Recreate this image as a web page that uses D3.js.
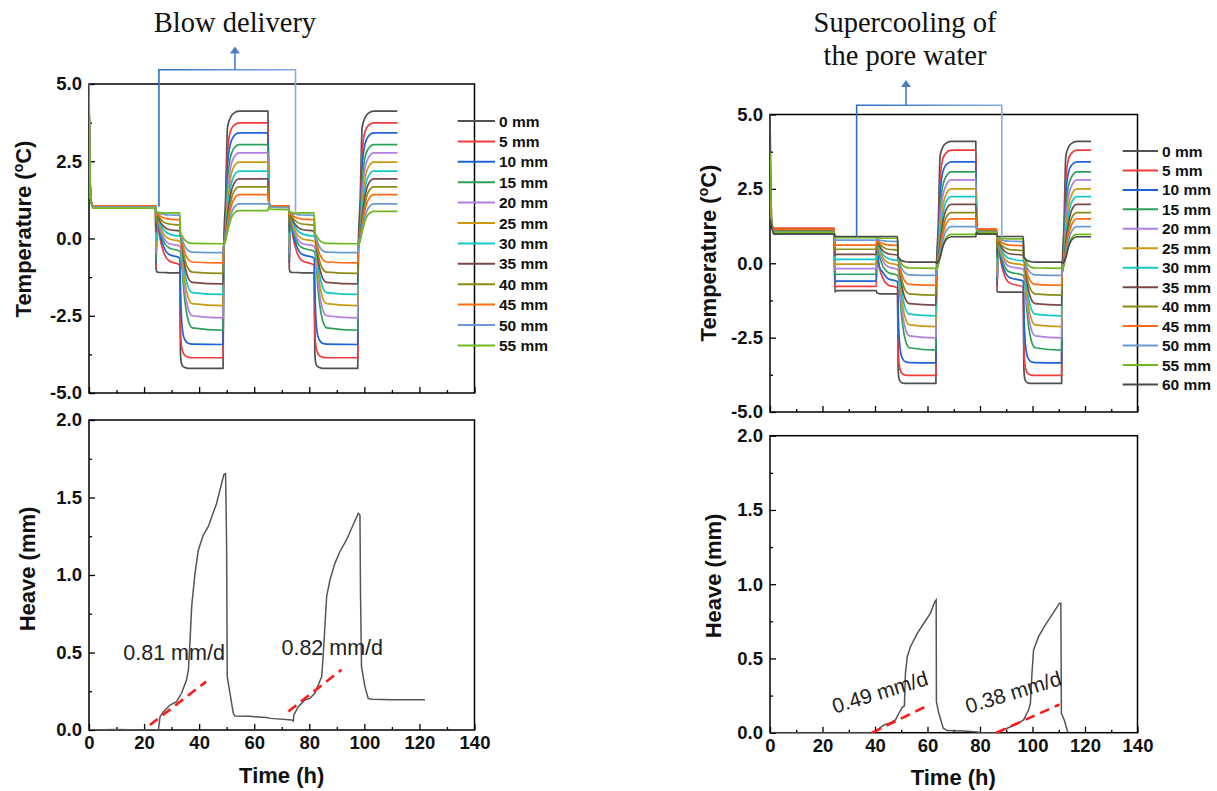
<!DOCTYPE html>
<html><head><meta charset="utf-8">
<script src="https://cdn.jsdelivr.net/npm/d3@7"></script>
<style>body{margin:0;background:#fff}</style>
</head><body>
<svg id="c" width="1217" height="791"></svg>
<script>
// ---------------- DATA ----------------
const depthLabelsL = ["0 mm","5 mm","10 mm","15 mm","20 mm","25 mm","30 mm","35 mm","40 mm","45 mm","50 mm","55 mm"];
const depthLabelsR = ["0 mm","5 mm","10 mm","15 mm","20 mm","25 mm","30 mm","35 mm","40 mm","45 mm","50 mm","55 mm","60 mm"];
const seriesColors = ["#505050","#f03c3c","#1f63d6","#2ea05a","#b07fe0","#c89b12","#14c8c8","#7a4848","#8c8c14","#ff6a12","#6a9ad2","#70b820","#4a4a4a"];
const timeTicks = [0,20,40,60,80,100,120,140];
const tempTicks = [-5,-2.5,0,2.5,5];
const heaveTicks = [0,0.5,1,1.5,2];

// Left (Blow delivery) temperature: shared time knots (h) and one value array per depth (°C)
const tempTimeL = [0,0.6,1.5,24.2, 24.35,24.7,25.6,27,29,33, 33.2,33.6,34.3,35,36,37.5,48.7, 48.9,49.6,50.3,51.3,52.5,54.5,65, 65.3,65.9,72.6, 72.75,73.1,74,75.4,77.4,81.8, 82,82.4,83.1,83.8,84.8,86.3,97.6, 97.8,98.5,99.2,100.2,101.4,103.4,112];
const tL0mm  = [4.3,1.3,1.05,1.05, -1.0,-1.08,-1.1,-1.1,-1.11,-1.11, -3.7,-4.05,-4.15,-4.18,-4.2,-4.2,-4.2, -0.3,1.3,3.6,3.9,4.05,4.12,4.12, 1.2,1.06,1.05, -1.0,-1.08,-1.1,-1.1,-1.11,-1.11, -3.7,-4.05,-4.15,-4.18,-4.2,-4.2,-4.2, -0.3,1.3,3.6,3.9,4.05,4.12,4.12];
const tL5mm  = [4.2,1.3,1.05,1.05, -0.95,0.7,0.09,-0.42,-0.72,-0.86, -2.9,-3.5,-3.72,-3.8,-3.84,-3.86,-3.86, -0.3,0.5,2.8,3.45,3.65,3.74,3.74, 1.2,1.06,1.05, -0.95,0.7,0.09,-0.42,-0.72,-0.86, -2.9,-3.5,-3.72,-3.8,-3.84,-3.86,-3.86, -0.3,0.5,2.8,3.45,3.65,3.74,3.74];
const tL10mm = [4.6,1.3,1.05,1.05, -0.8,0.75,0.21,-0.24,-0.51,-0.63, -1.5,-2.6,-3.15,-3.3,-3.39,-3.42,-3.43, -0.3,0.3,2.3,3.05,3.3,3.42,3.42, 1.2,1.06,1.05, -0.8,0.75,0.21,-0.24,-0.51,-0.63, -1.5,-2.6,-3.15,-3.3,-3.39,-3.42,-3.43, -0.3,0.3,2.3,3.05,3.3,3.42,3.42];
const tL15mm = [4.6,1.3,1.05,1.05, -0.7,0.78,0.32,-0.08,-0.3,-0.41, -0.45,-0.67,-1.56,-2.15,-2.64,-2.89,-2.97, -0.3,0.2,1.8,2.6,2.9,3.04,3.04, 1.2,1.06,1.05, -0.7,0.78,0.32,-0.08,-0.3,-0.41, -0.45,-0.67,-1.56,-2.15,-2.64,-2.89,-2.97, -0.3,0.2,1.8,2.6,2.9,3.04,3.04];
const tL20mm = [4.6,1.3,1.05,1.05, -0.5,0.8,0.39,0.04,-0.16,-0.25, -0.28,-0.48,-1.29,-1.83,-2.27,-2.5,-2.57, -0.3,0.15,1.4,2.25,2.6,2.77,2.77, 1.2,1.06,1.05, -0.5,0.8,0.39,0.04,-0.16,-0.25, -0.28,-0.48,-1.29,-1.83,-2.27,-2.5,-2.57, -0.3,0.15,1.4,2.25,2.6,2.77,2.77];
const tL25mm = [4.6,1.3,1.05,1.05, -0.3,0.81,0.46,0.16,-0.01,-0.09, -0.1,-0.3,-1.03,-1.5,-1.9,-2.11,-2.17, -0.3,0.1,1.1,1.9,2.3,2.47,2.47, 1.2,1.06,1.05, -0.3,0.81,0.46,0.16,-0.01,-0.09, -0.1,-0.3,-1.03,-1.5,-1.9,-2.11,-2.17, -0.3,0.1,1.1,1.9,2.3,2.47,2.47];
const tL30mm = [4.6,1.3,1.05,1.05, -0.1,0.82,0.53,0.29,0.15,0.08, 0.08,-0.11,-0.77,-1.21,-1.56,-1.75,-1.81, -0.3,0.05,0.9,1.6,2.0,2.18,2.18, 1.2,1.06,1.05, -0.1,0.82,0.53,0.29,0.15,0.08, 0.08,-0.11,-0.77,-1.21,-1.56,-1.75,-1.81, -0.3,0.05,0.9,1.6,2.0,2.18,2.18];
const tL35mm = [4.6,1.3,1.05,1.05, 0.2,0.82,0.59,0.4,0.29,0.24, 0.1,-0.06,-0.61,-0.97,-1.27,-1.42,-1.47, -0.3,0.02,0.7,1.35,1.75,1.93,1.93, 1.2,1.06,1.05, 0.2,0.82,0.59,0.4,0.29,0.24, 0.1,-0.06,-0.61,-0.97,-1.27,-1.42,-1.47, -0.3,0.02,0.7,1.35,1.75,1.93,1.93];
const tL40mm = [4.6,1.3,1.05,1.05, 0.5,0.83,0.67,0.54,0.47,0.43, 0.1,-0.02,-0.45,-0.74,-0.97,-1.09,-1.13, -0.3,0.0,0.5,1.1,1.5,1.67,1.67, 1.2,1.06,1.05, 0.5,0.83,0.67,0.54,0.47,0.43, 0.1,-0.02,-0.45,-0.74,-0.97,-1.09,-1.13, -0.3,0.0,0.5,1.1,1.5,1.67,1.67];
const tL45mm = [4.2,1.3,1.05,1.05, 0.75,0.84,0.75,0.67,0.63,0.61, 0.1,0.01,-0.3,-0.51,-0.67,-0.76,-0.79, -0.3,-0.02,0.4,0.9,1.25,1.42,1.42, 1.2,1.06,1.05, 0.75,0.84,0.75,0.67,0.63,0.61, 0.1,0.01,-0.3,-0.51,-0.67,-0.76,-0.79, -0.3,-0.02,0.4,0.9,1.25,1.42,1.42];
const tL50mm = [4.6,1.3,1.02,1.02, 0.85,0.85,0.81,0.78,0.76,0.75, 0.1,0.04,-0.15,-0.28,-0.39,-0.44,-0.46, -0.3,-0.05,0.3,0.7,0.98,1.12,1.12, 1.15,1.02,1.0, 0.85,0.85,0.81,0.78,0.76,0.75, 0.1,0.04,-0.15,-0.28,-0.39,-0.44,-0.46, -0.3,-0.05,0.3,0.7,0.98,1.12,1.12];
const tL55mm = [5.0,1.2,0.98,0.98, 0.85,0.85,0.84,0.83,0.83,0.83, 0.15,0.12,0.01,-0.07,-0.13,-0.16,-0.17, -0.2,-0.05,0.2,0.55,0.8,0.9,0.9, 1.05,0.95,0.93, 0.85,0.85,0.84,0.83,0.83,0.83, 0.15,0.12,0.01,-0.07,-0.13,-0.16,-0.17, -0.2,-0.05,0.2,0.55,0.78,0.88,0.88];

// Right (Supercooling) temperature
const tempTimeR = [0,0.7,1.5,24.5, 24.7,25.3,40.5, 40.7,41.6,43,45,48.6, 48.8,49.2,49.9,50.6,51.6,53.1,63.2, 63.4,64.1,64.8,65.8,67,69,78.4, 78.7,79.3,86.4, 86.55,86.9,87.8,89.2,91.2,96.5, 96.7,97.1,97.8,98.5,99.5,101,111.1, 111.3,112,112.7,113.7,114.9,116.9,122.3];
const tR0mm  = [5.0,1.3,1.0,1.0, -0.97,-0.92,-0.92, -1.0,-1.02,-1.03,-1.03,-1.03, -3.5,-3.9,-4.0,-4.03,-4.04,-4.04,-4.04, -0.3,1.3,3.6,3.9,4.03,4.1,4.1, 1.15,1.0,1.0, -0.95,-0.97,-0.97,-0.97,-0.97,-0.97, -3.5,-3.9,-4.0,-4.03,-4.04,-4.04,-4.04, -0.3,1.3,3.6,3.9,4.03,4.1,4.1];
const tR5mm  = [2.5,1.3,1.18,1.18, -0.83,-0.78,-0.78, 0.3,-0.14,-0.51,-0.73,-0.83, -2.7,-3.4,-3.65,-3.72,-3.76,-3.77,-3.77, -0.3,0.5,2.8,3.5,3.7,3.8,3.8, 1.25,1.15,1.15, -0.9,0.7,0.12,-0.38,-0.66,-0.8, -2.7,-3.4,-3.65,-3.72,-3.76,-3.77,-3.77, -0.3,0.5,2.8,3.5,3.7,3.8,3.8];
const tR10mm = [2.0,1.3,1.15,1.15, -0.65,-0.6,-0.6, 0.5,-0.1,-0.31,-0.52,-0.62, -1.5,-2.5,-3.05,-3.22,-3.31,-3.34,-3.35, -0.3,0.3,2.3,3.05,3.3,3.41,3.41, 1.25,1.12,1.12, -0.75,0.75,0.22,-0.22,-0.48,-0.6, -1.5,-2.5,-3.05,-3.22,-3.31,-3.34,-3.35, -0.3,0.3,2.3,3.05,3.3,3.41,3.41];
const tR15mm = [1.5,1.3,1.13,1.13, -0.42,-0.37,-0.37, 0.7,0.27,-0.1,-0.31,-0.41, -0.45,-0.66,-1.54,-2.12,-2.59,-2.84,-2.92, -0.3,0.2,1.8,2.6,2.9,3.07,3.07, 1.22,1.1,1.1, -0.6,0.78,0.32,-0.07,-0.29,-0.4, -0.44,-0.65,-1.53,-2.11,-2.59,-2.84,-2.92, -0.3,0.2,1.8,2.6,2.9,3.07,3.07];
const tR20mm = [1.5,1.3,1.12,1.12, -0.23,-0.18,-0.18, 0.82,0.42,0.08,-0.12,-0.21, -0.24,-0.44,-1.25,-1.77,-2.21,-2.44,-2.51, -0.3,0.15,1.4,2.25,2.6,2.8,2.8, 1.22,1.1,1.1, -0.45,0.8,0.41,0.08,-0.11,-0.2, -0.23,-0.43,-1.24,-1.77,-2.21,-2.44,-2.51, -0.3,0.15,1.4,2.25,2.6,2.8,2.8];
const tR25mm = [1.5,1.3,1.1,1.1, -0.08,-0.03,-0.03, 0.82,0.48,0.19,0.02,-0.06, -0.08,-0.27,-0.99,-1.47,-1.86,-2.07,-2.13, -0.3,0.1,1.1,1.9,2.3,2.5,2.5, 1.2,1.1,1.1, -0.3,0.81,0.47,0.18,0.02,-0.06, -0.08,-0.27,-0.99,-1.47,-1.86,-2.07,-2.13, -0.3,0.1,1.1,1.9,2.3,2.5,2.5];
const tR30mm = [1.5,1.3,1.1,1.1, 0.08,0.13,0.13, 0.82,0.54,0.3,0.16,0.1, 0.1,-0.09,-0.74,-1.17,-1.53,-1.71,-1.77, -0.3,0.05,0.9,1.6,2.05,2.24,2.24, 1.2,1.08,1.08, -0.1,0.82,0.54,0.3,0.16,0.09, 0.09,-0.1,-0.75,-1.17,-1.53,-1.71,-1.77, -0.3,0.05,0.9,1.6,2.05,2.24,2.24];
const tR35mm = [1.5,1.3,1.08,1.08, 0.25,0.3,0.3, 0.82,0.61,0.42,0.32,0.27, 0.12,-0.03,-0.57,-0.92,-1.21,-1.36,-1.41, -0.3,0.02,0.7,1.35,1.78,1.98,1.98, 1.2,1.08,1.08, 0.2,0.82,0.61,0.42,0.32,0.27, 0.12,-0.03,-0.57,-0.92,-1.21,-1.36,-1.41, -0.3,0.02,0.7,1.35,1.78,1.98,1.98];
const tR40mm = [1.5,1.3,1.08,1.08, 0.42,0.47,0.47, 0.82,0.67,0.55,0.47,0.44, 0.12,0.0,-0.42,-0.69,-0.92,-1.03,-1.07, -0.3,0.0,0.5,1.1,1.52,1.7,1.7, 1.2,1.08,1.08, 0.5,0.83,0.67,0.54,0.46,0.42, 0.12,0.0,-0.42,-0.69,-0.92,-1.03,-1.07, -0.3,0.0,0.5,1.1,1.52,1.7,1.7];
const tR45mm = [2.4,1.3,1.15,1.15, 0.56,0.61,0.61, 0.82,0.73,0.66,0.62,0.6, 0.12,0.03,-0.27,-0.46,-0.63,-0.71,-0.74, -0.3,-0.02,0.4,0.95,1.3,1.49,1.49, 1.25,1.15,1.15, 0.75,0.84,0.74,0.66,0.61,0.59, 0.12,0.03,-0.27,-0.46,-0.63,-0.71,-0.74, -0.3,-0.02,0.4,0.95,1.3,1.49,1.49];
const tR50mm = [1.5,1.3,1.05,1.05, 0.74,0.78,0.78, 0.82,0.78,0.76,0.74,0.73, 0.12,0.07,-0.12,-0.24,-0.34,-0.39,-0.41, -0.3,-0.05,0.3,0.75,1.07,1.23,1.23, 1.15,1.05,1.05, 0.85,0.85,0.8,0.76,0.74,0.73, 0.12,0.07,-0.12,-0.24,-0.34,-0.39,-0.41, -0.3,-0.05,0.3,0.75,1.07,1.23,1.23];
const tR55mm = [3.7,1.3,1.03,1.03, 0.84,0.86,0.86, 0.85,0.85,0.84,0.84,0.84, 0.15,0.12,0.01,-0.07,-0.13,-0.16,-0.17, -0.2,-0.05,0.2,0.58,0.85,0.97,0.97, 1.1,1.03,1.03, 0.85,0.85,0.84,0.83,0.82,0.82, 0.15,0.12,0.01,-0.07,-0.13,-0.16,-0.17, -0.2,-0.05,0.2,0.58,0.85,0.97,0.97];
const tR60mm = [1.5,1.2,0.98,0.98, 0.9,0.9,0.9, 0.9,0.9,0.9,0.9,0.9, 0.2,0.17,0.1,0.07,0.05,0.04,0.04, 0.0,0.05,0.2,0.55,0.78,0.89,0.89, 1.05,0.98,0.98, 0.9,0.9,0.9,0.9,0.9,0.9, 0.2,0.17,0.1,0.07,0.05,0.04,0.04, 0.0,0.05,0.2,0.55,0.78,0.89,0.89];

// Heave (mm)
const heaveTimeL = [0,10,20,25.2,25.8,27,29.4,31.8,33.6,35.4,36.1,36.7,37.3,38.5,39.7,41.5,43.3,46.3,49.0,49.6,49.97,50.2,51.2,52.4,53.0,58,64.5,66,73.6,74.2,74.4,76,78.4,80.2,82,84.5,85.1,86.3,87.5,89.3,91.1,93.5,97.8,98.4,98.6,98.96,100.2,101.4,102.6,110,122];
const heaveL     = [0,0.003,0,0,0.086,0.118,0.161,0.183,0.237,0.323,0.387,0.58,0.8,1.01,1.16,1.258,1.312,1.46,1.65,1.654,1.2,0.344,0.237,0.108,0.09,0.088,0.08,0.075,0.065,0.058,0.097,0.15,0.194,0.204,0.237,0.344,0.495,0.86,0.968,1.075,1.15,1.226,1.398,1.387,0.882,0.409,0.28,0.204,0.198,0.195,0.195];
const heaveTimeR = [0,39,40.8,43.4,45.9,47.8,49.1,50.4,51.2,51.6,52.3,53.5,56.1,58.6,61.1,62.8,63.3,63.4,64.3,66.0,67.5,74,78.9,80,86.2,89.0,91.6,94.1,96.6,98.5,99.2,99.8,100.4,102.3,104.9,107.4,110.3,110.8,111.0,112.1,113.4,113.6];
const heaveR     = [0,0,0.018,0.052,0.068,0.086,0.131,0.171,0.18,0.4,0.512,0.579,0.669,0.737,0.804,0.883,0.894,0.209,0.131,0.03,0.014,0.012,0.005,0,0,0.018,0.04,0.058,0.086,0.153,0.198,0.4,0.557,0.647,0.726,0.793,0.872,0.872,0.131,0.086,0.007,0];

// Heave-rate fit lines [t, h] and labels
const rateFitsL = [[[22.1,0.032],[42.5,0.312]], [[72.4,0.12],[91.7,0.389]]];
const rateFitsR = [[[38.9,0.0],[60.9,0.19]], [[86.2,0.0],[110.3,0.19]]];
const rateLabelsL = ["0.81 mm/d","0.82 mm/d"];
const rateLabelsR = ["0.49 mm/d","0.38 mm/d"];

const seriesL = [tL0mm,tL5mm,tL10mm,tL15mm,tL20mm,tL25mm,tL30mm,tL35mm,tL40mm,tL45mm,tL50mm,tL55mm];
const seriesR = [tR0mm,tR5mm,tR10mm,tR15mm,tR20mm,tR25mm,tR30mm,tR35mm,tR40mm,tR45mm,tR50mm,tR55mm,tR60mm];

// ---------------- DRAWING ----------------
const svg = d3.select("#c");
svg.append("rect").attr("width",1217).attr("height",791).attr("fill","#fff");
const FONT = "'Liberation Sans', Arial, sans-serif";
const defs = svg.append("defs");
const grad = defs.append("linearGradient").attr("id","brk").attr("x1","0").attr("x2","1").attr("y1","0").attr("y2","0");
grad.append("stop").attr("offset","0%").attr("stop-color","#2f6fc6");
grad.append("stop").attr("offset","100%").attr("stop-color","#86aee0");

const xL = d3.scaleLinear([0,140],[89,474.5]);
const yTL = d3.scaleLinear([-5,5],[393,84]);
const yHL = d3.scaleLinear([0,2],[730,420]);
const xR = d3.scaleLinear([0,140],[770,1137.5]);
const yTR = d3.scaleLinear([-5,5],[412,114.5]);
const yHR = d3.scaleLinear([0,2],[732.7,435.7]);

let clipId = 0;
function frame(x, y, yticks, showX, yMinorStep, xTitle, yTitle, yTitlePos, xTitlePos, supO) {
  const [x0,x1] = x.range(); const [y0,y1] = y.range();
  const g = svg.append("g");
  const xMinor = d3.range(10,140,20);
  const yd = y.domain();
  const yMinor = d3.range(yd[0]+yMinorStep, yd[1], yMinorStep*2);
  g.append("g").attr("transform",`translate(0,${y0})`)
    .call(d3.axisBottom(x).tickValues(xMinor).tickSizeInner(-3).tickSizeOuter(0).tickFormat(""))
    .call(s=>s.select(".domain").remove());
  g.append("g").attr("transform",`translate(${x0},0)`)
    .call(d3.axisLeft(y).tickValues(yMinor).tickSizeInner(-3).tickSizeOuter(0).tickFormat(""))
    .call(s=>s.select(".domain").remove());
  const ax = g.append("g").attr("transform",`translate(0,${y0})`)
    .call(d3.axisBottom(x).tickValues(timeTicks).tickSizeInner(-6).tickSizeOuter(0).tickPadding(6)
      .tickFormat(showX ? (d=>String(d)) : ""));
  ax.select(".domain").remove();
  const ay = g.append("g").attr("transform",`translate(${x0},0)`)
    .call(d3.axisLeft(y).tickValues(yticks).tickSizeInner(-6).tickSizeOuter(0).tickPadding(7)
      .tickFormat(d=>d.toFixed(1)));
  ay.select(".domain").remove();
  g.selectAll(".tick line").attr("stroke","#000").attr("stroke-width",1.3);
  g.selectAll(".tick text").attr("font-family",FONT).attr("font-weight","bold").attr("font-size",18.5).attr("fill","#111");
  g.append("rect").attr("x",x0).attr("y",y1).attr("width",x1-x0).attr("height",y0-y1)
    .attr("fill","none").attr("stroke","#000").attr("stroke-width",1.5);
  if (xTitle) {
    svg.append("text").attr("x",xTitlePos[0]).attr("y",xTitlePos[1]).attr("text-anchor","middle")
      .attr("font-family",FONT).attr("font-weight","bold").attr("font-size",22).attr("fill","#111").text(xTitle);
  }
  const t = svg.append("text").attr("transform",`translate(${yTitlePos[0]},${yTitlePos[1]}) rotate(-90)`)
    .attr("text-anchor","middle").attr("font-family",FONT).attr("font-weight","bold").attr("font-size",22).attr("fill","#111");
  if (supO) {
    t.append("tspan").text("Temperature (");
    t.append("tspan").attr("font-size",14).attr("dy",-8).text("o");
    t.append("tspan").attr("dy",8).text("C)");
  } else t.text(yTitle);
  const id = "clip"+(clipId++);
  defs.append("clipPath").attr("id",id).append("rect").attr("x",x0).attr("y",y1).attr("width",x1-x0).attr("height",y0-y1);
  return id;
}

function drawTemps(x, y, times, series, clip) {
  const line = d3.line().x(d=>x(d[0])).y(d=>y(d[1])).curve(d3.curveMonotoneX);
  const g = svg.append("g").attr("clip-path",`url(#${clip})`);
  series.forEach((vals,i)=>{
    g.append("path").datum(times.map((t,k)=>[t,vals[k]]))
      .attr("d",line).attr("fill","none").attr("stroke",seriesColors[i]).attr("stroke-width",1.7)
      .attr("stroke-linejoin","round");
  });
}

function drawLegend(labels, xa, xb, xt, ytop, dy) {
  const g = svg.append("g");
  labels.forEach((lab,i)=>{
    const yy = ytop + i*dy;
    g.append("line").attr("x1",xa).attr("x2",xb).attr("y1",yy).attr("y2",yy)
      .attr("stroke",seriesColors[i]).attr("stroke-width",2);
    g.append("text").attr("x",xt).attr("y",yy).attr("dy","0.36em").attr("font-family",FONT)
      .attr("font-weight","bold").attr("font-size",15.5).attr("fill","#111").text(lab);
  });
}

function drawHeave(x, y, times, vals, fits, clip) {
  const g = svg.append("g").attr("clip-path",`url(#${clip})`);
  const line = d3.line().x(d=>x(d[0])).y(d=>y(d[1]));
  g.append("path").datum(times.map((t,k)=>[t,vals[k]])).attr("d",line)
    .attr("fill","none").attr("stroke","#555").attr("stroke-width",1.5);
  fits.forEach(f=>{
    svg.append("path").datum(f).attr("d",line).attr("fill","none")
      .attr("stroke","#ff1a1a").attr("stroke-width",2.6).attr("stroke-dasharray","10,6");
  });
}

function bracket(x, y, tA, vA, tB, vB, vTop, tMid, tipY) {
  const xa = x(tA), xb = x(tB), yt = y(vTop), xm = x(tMid);
  svg.append("path").attr("d",`M${xa},${y(vA)}V${yt}H${xb}V${y(vB)}`)
    .attr("fill","none").attr("stroke","url(#brk)").attr("stroke-width",1.6);
  svg.append("path").attr("d",`M${xm},${yt}V${tipY+6}`).attr("stroke","#4a7cc8").attr("stroke-width",1.6);
  svg.append("path").attr("d",`M${xm},${tipY}L${xm-5},${tipY+7}L${xm+5},${tipY+7}Z`).attr("fill","#4a7cc8");
}

function title(lines, cx, y0, lh) {
  lines.forEach((s,i)=>{
    svg.append("text").attr("x",cx).attr("y",y0+i*lh).attr("text-anchor","middle")
      .attr("font-family","'Liberation Serif','Times New Roman',serif").attr("font-size",28.5).attr("fill","#111").text(s);
  });
}

// Left column
const cTL = frame(xL, yTL, tempTicks, false, 1.25, null, null, [31,229], null, true);
drawTemps(xL, yTL, tempTimeL, seriesL, cTL);
drawLegend(depthLabelsL, 457.7, 495, 499, 121, 20.4);
const cHL = frame(xL, yHL, heaveTicks, true, 0.25, "Time (h)", "Heave (mm)", [35,569], [281.7,783], false);
drawHeave(xL, yHL, heaveTimeL, heaveL, rateFitsL, cHL);
svg.append("text").attr("x",xL(12.45)).attr("y",yHL(0.452)).attr("font-family",FONT).attr("font-size",21.5).attr("fill","#222").text(rateLabelsL[0]);
svg.append("text").attr("x",xL(69.9)).attr("y",yHL(0.484)).attr("font-family",FONT).attr("font-size",21.5).attr("fill","#222").text(rateLabelsL[1]);
bracket(xL, yTL, 25.4, 1.03, 75.0, 0.87, 5.46, 53, 46.5);
title(["Blow delivery"], 235, 32, 33);

// Right column
const cTR = frame(xR, yTR, tempTicks, false, 1.25, null, null, [716,253], null, true);
drawTemps(xR, yTR, tempTimeR, seriesR, cTR);
drawLegend(depthLabelsR, 1122.7, 1158, 1162, 151, 19.45);
const cHR = frame(xR, yHR, heaveTicks, true, 0.25, "Time (h)", "Heave (mm)", [721,576], [953.3,785], false);
drawHeave(xR, yHR, heaveTimeR, heaveR, rateFitsR, cHR);
[[42.7,0.226],[93.5,0.226]].forEach((p,i)=>{
  svg.append("text").attr("transform",`translate(${xR(p[0])},${yHR(p[1])}) rotate(-17)`)
    .attr("text-anchor","middle").attr("font-family",FONT).attr("font-size",21).attr("fill","#222").text(rateLabelsR[i]);
});
bracket(xR, yTR, 33.0, 0.89, 88.3, 0.89, 5.31, 51.8, 80);
title(["Supercooling of","the pore water"], 905, 32, 33);
</script>
</body></html>
